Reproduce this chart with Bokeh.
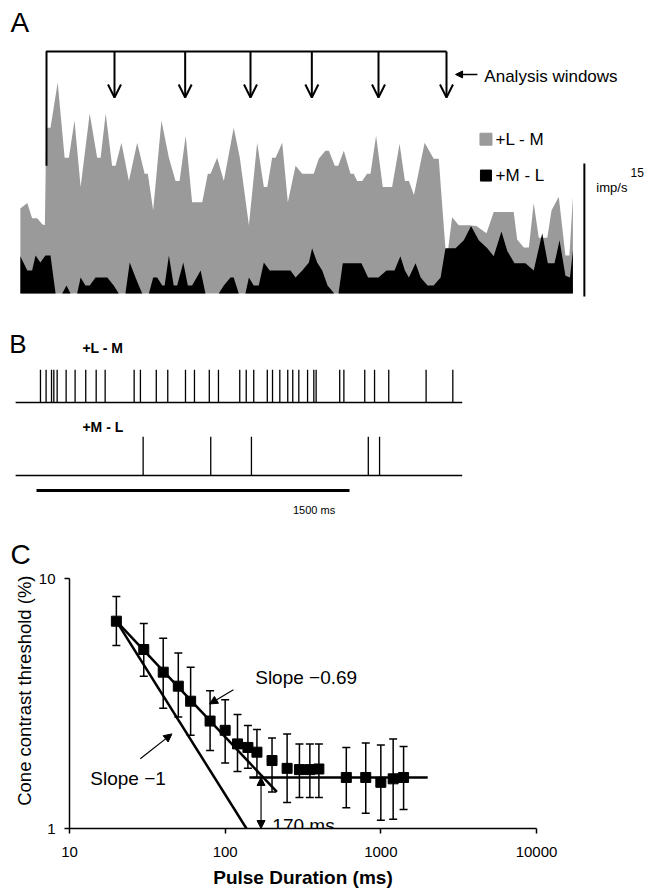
from bokeh.plotting import figure
from bokeh.models import (Range1d, Arrow, OpenHead, NormalHead, TeeHead, Whisker,
                          ColumnDataSource, Label, FixedTicker, PrintfTickFormatter)
from bokeh.embed import file_html
from bokeh.resources import INLINE

FONT = "Liberation Sans"
GRAY = "#9a9a9a"

# ---------------- Panel A: PSTH (time in ms, rate in imp/s) ----------------
lm_t = [-98, -72, -54, -35, -16, -6, -1, 15, 42, 68,
        84, 105, 128, 162, 190, 203, 222, 246, 259, 281,
        309, 340, 368, 380, 400, 431, 459, 484, 499, 522,
        546, 584, 605, 615, 640, 665, 702, 725, 759, 790,
        815, 828, 846, 859, 884, 905, 934, 959, 1002, 1021,
        1046, 1059, 1081, 1094, 1115, 1140, 1152, 1165, 1184, 1202,
        1215, 1236, 1261, 1296, 1324, 1344, 1359, 1378, 1418, 1452,
        1471, 1481, 1500, 1521, 1546, 1584, 1612, 1650, 1677, 1752,
        1765, 1790, 1809, 1827, 1846, 1878, 1894, 1921, 1946, 1961, 1974]
lm_rate = [9.6, 10.2, 8.5, 8.5, 7.8, 7.7, 18.7, 18.7, 23.8, 15.3,
           15.3, 19.5, 12.0, 20.3, 15.3, 15.3, 20.3, 14.4, 14.4, 17.0,
           12.7, 17.0, 13.5, 13.5, 9.4, 19.5, 15.3, 12.7, 12.7, 17.8,
           10.3, 10.3, 13.5, 13.5, 15.3, 12.7, 18.7, 15.3, 7.7, 17.0,
           12.0, 12.0, 15.3, 15.3, 17.0, 10.3, 14.4, 13.5, 13.5, 15.2,
           16.1, 16.1, 14.4, 14.4, 16.1, 13.5, 13.5, 12.7, 12.7, 13.5,
           13.5, 17.8, 12.0, 12.0, 16.9, 12.7, 12.7, 11.1, 17.0, 15.2,
           15.2, 11.1, 3.5, 8.6, 7.7, 7.7, 7.6, 6.8, 9.2, 9.2,
           6.1, 5.2, 5.2, 10.2, 6.3, 6.3, 9.4, 10.9, 4.3, 4.3, 10.9]

ml_t = [-98, -72, -54, -41, -23, -4, 15, 34, 59, 75,
        90, 115, 128, 146, 162, 184, 228, 252, 271, 296,
        312, 334, 346, 359, 384, 400, 415, 434, 443, 459,
        477, 490, 513, 530, 546, 578, 596, 646, 665, 690,
        702, 721, 746, 759, 777, 796, 815, 837, 915, 934,
        959, 984, 996, 1015, 1034, 1054, 1079, 1095, 1111, 1181,
        1206, 1245, 1275, 1305, 1327, 1344, 1359, 1384, 1403, 1429,
        1452, 1478, 1496, 1534, 1565, 1592, 1621, 1653, 1677, 1706,
        1728, 1755, 1796, 1827, 1859, 1880, 1905, 1924, 1946, 1963, 1974]
ml_rate = [4.2, 2.6, 2.6, 4.3, 3.5, 4.3, 4.3, 0, 0, 0.9,
           0, 0, 1.8, 0.9, 0.9, 1.8, 1.8, 0.9, 0, 0,
           3.5, 1.8, 0.9, 0, 0, 1.8, 1.8, 0.9, 0.9, 4.3,
           0.9, 0.9, 3.5, 0.9, 0.9, 2.6, 0, 0, 0.9, 1.8,
           1.8, 0, 0, 1.8, 0.9, 0.9, 3.5, 2.6, 2.6, 1.8,
           2.6, 3.5, 5.1, 3.5, 2.6, 0.9, 0, 0, 3.4, 3.4,
           1.8, 1.8, 2.6, 2.6, 4.2, 2.6, 1.8, 3.4, 1.8, 0.9,
           0.9, 1.8, 5.1, 5.1, 6.0, 7.6, 6.0, 5.1, 4.2, 7.0,
           4.8, 3.4, 3.4, 2.6, 6.8, 3.4, 3.4, 6.0, 2.0, 1.8, 4.9]

STIM_ON = 0
window_ends = [255, 520, 765, 995, 1245, 1500]
SCALE_IMP = 15

# ---------------- Panel B: spike trains (ms) ----------------
lm_spikes = [19, 46, 72, 83, 99, 142, 185, 236, 286, 329, 468, 498, 574, 629,
             714, 757, 828, 872, 974, 1005, 1041, 1106, 1131, 1166, 1204, 1228,
             1257, 1299, 1329, 1340, 1453, 1473, 1573, 1620, 1688, 1867, 1995]
ml_spikes = [511, 835, 1030, 1590, 1644]
TRIAL_START, TRIAL_END = -100, 2040
SCALE_MS = 1500

# ---------------- Panel C: threshold vs duration ----------------
dur = [20, 30, 40, 50, 60, 80, 100, 120, 140, 160, 200, 250, 300, 350, 400,
       600, 800, 1000, 1200, 1400]
thr = [6.75, 5.2, 4.22, 3.71, 3.23, 2.69, 2.47, 2.18, 2.11, 2.02, 1.87, 1.74,
       1.72, 1.72, 1.73, 1.60, 1.60, 1.53, 1.58, 1.60]
thr_hi = [8.47, 6.6, 5.77, 5.03, 4.42, 3.56, 3.27, 2.86, 2.58, 2.49, 2.30, 2.39,
          2.18, 2.18, 2.18, 2.11, 2.20, 2.16, 2.28, 2.13]
thr_lo = [5.4, 4.06, 3.03, 2.79, 2.36, 2.05, 1.83, 1.69, 1.74, 1.60, 1.40, 1.27,
          1.33, 1.33, 1.33, 1.21, 1.15, 1.08, 1.09, 1.19]
fit069_x, fit069_y = [20, 215], [6.75, 1.40]
fit1_x, fit1_y = [20, 137], [6.75, 1.0]
plateau_x, plateau_y = [143, 2000], [1.6, 1.6]
CRIT_DUR = 170

W = 652


def lab(p, x, y, text, size, style="normal", align="left", baseline="middle"):
    p.add_layout(Label(x=x, y=y, text=text, text_font=FONT, text_font_size=size,
                       text_font_style=style, text_align=align,
                       text_baseline=baseline, text_color="black"))


def bare(p):
    p.grid.visible = False
    p.outline_line_color = None


# ======== A ========
pA = figure(width=W, height=312, x_range=Range1d(-172.5, 2272.5),
            y_range=Range1d(-2.14, 33.04), x_axis_location=None,
            y_axis_location=None, title=None, min_border=0,
            output_backend="svg", toolbar_location=None)
bare(pA)
pA.varea(x=lm_t, y1=0, y2=lm_rate, fill_color=GRAY)
pA.varea(x=ml_t, y1=0, y2=ml_rate, fill_color="black")

BR_TOP, BR_BOTTOM, TIP = 27.3, 14.4, 22.1
pA.line([STIM_ON, STIM_ON, window_ends[-1]], [BR_BOTTOM, BR_TOP, BR_TOP],
        line_width=2, color="black")
for t in window_ends:
    pA.add_layout(Arrow(end=OpenHead(size=13, line_width=2, line_color="black"),
                        x_start=t, y_start=BR_TOP, x_end=t, y_end=TIP,
                        line_width=2, line_color="black"))
pA.add_layout(Arrow(end=NormalHead(size=7, fill_color="black", line_color="black"),
                    x_start=1616, y_start=24.7, x_end=1534, y_end=24.7,
                    line_width=1.5))
lab(pA, 1642, 24.5, "Analysis windows", "17px")

pA.scatter([1648], [17.4], marker="square", size=12, color=GRAY)
pA.scatter([1648], [13.3], marker="square", size=11, color="black")
lab(pA, 1684, 17.4, "+L - M", "17px")
lab(pA, 1684, 13.3, "+M - L", "17px")

pA.segment(x0=[2017], y0=[-0.34], x1=[2017], y1=[-0.34 + SCALE_IMP],
           line_width=2, color="black")
lab(pA, 2190, 13.6, str(SCALE_IMP), "12px")
lab(pA, 2062, 12.0, "imp/s", "13px")
lab(pA, -135, 30.6, "A", "28px")

# ======== B (also carries the "C" panel letter) ========
pB = figure(width=W, height=258, x_range=Range1d(-172.5, 2951.9),
            y_range=Range1d(-1.301, 2.233), x_axis_location=None,
            y_axis_location=None, title=None, min_border=0,
            output_backend="svg", toolbar_location=None)
bare(pB)
ROW_LM, ROW_ML = 1.0, 0.0
H_LM, H_ML = 0.45, 0.53
pB.line([TRIAL_START, TRIAL_END], [ROW_LM, ROW_LM], line_width=1.5, color="black")
pB.line([TRIAL_START, TRIAL_END], [ROW_ML, ROW_ML], line_width=1.5, color="black")
pB.segment(x0=lm_spikes, y0=[ROW_LM] * len(lm_spikes), x1=lm_spikes,
           y1=[ROW_LM + H_LM] * len(lm_spikes), line_width=1.3, color="black")
pB.segment(x0=ml_spikes, y0=[ROW_ML] * len(ml_spikes), x1=ml_spikes,
           y1=[ROW_ML + H_ML] * len(ml_spikes), line_width=1.3, color="black")
pB.line([0, SCALE_MS], [-0.205, -0.205], line_width=3, color="black")
lab(pB, 1330, -0.479, "%d ms" % SCALE_MS, "11px", align="center")
lab(pB, 220, 1.753, "+L - M", "14px", style="bold")
lab(pB, 220, 0.658, "+M - L", "14px", style="bold")
lab(pB, -130, 1.795, "B", "26px")
lab(pB, -124.6, -1.075, "C", "28px")

# ======== C ========
pC = figure(width=W, height=321, x_axis_type="log", y_axis_type="log",
            x_range=Range1d(10, 10000), y_range=Range1d(1, 10), title=None,
            min_border_left=69, min_border_right=W - 69 - 467,
            min_border_top=8, min_border_bottom=63,
            output_backend="svg", toolbar_location=None)
bare(pC)
pC.xaxis.ticker = FixedTicker(ticks=[10, 100, 1000, 10000], minor_ticks=[])
pC.yaxis.ticker = FixedTicker(ticks=[1, 10], minor_ticks=[])
pC.xaxis.formatter = PrintfTickFormatter(format="%d")
pC.yaxis.formatter = PrintfTickFormatter(format="%d")
for ax in (pC.xaxis, pC.yaxis):
    ax.axis_line_width = 1.5
    ax.axis_line_color = "black"
    ax.major_tick_line_width = 1.5
    ax.major_tick_line_color = "black"
    ax.major_tick_out = 5
    ax.major_tick_in = 0
    ax.minor_tick_line_color = None
    ax.major_label_text_font = FONT
    ax.major_label_text_font_size = "15px"
    ax.major_label_text_color = "black"
    ax.axis_label_text_font = FONT
    ax.axis_label_text_color = "black"
pC.xaxis.major_label_standoff = 13
pC.yaxis.major_label_standoff = 9
pC.xaxis.axis_label = "Pulse Duration (ms)"
pC.xaxis.axis_label_text_font_size = "19px"
pC.xaxis.axis_label_text_font_style = "bold"
pC.xaxis.axis_label_standoff = 7
# leading no-break spaces nudge the centred label up, as in the reference
pC.yaxis.axis_label = "\u00a0" * 5 + "Cone contrast threshold (%)"
pC.yaxis.axis_label_text_font_size = "18.5px"
pC.yaxis.axis_label_text_font_style = "normal"
pC.yaxis.axis_label_standoff = 1

pC.line(fit069_x, fit069_y, line_width=2.5, color="black")
pC.line(fit1_x, fit1_y, line_width=2.5, color="black")
pC.line(plateau_x, plateau_y, line_width=2.5, color="black")

src = ColumnDataSource(dict(x=dur, y=thr, hi=thr_hi, lo=thr_lo))
pC.add_layout(Whisker(source=src, base="x", upper="hi", lower="lo",
                      dimension="height", line_width=1.5, line_color="black",
                      upper_head=TeeHead(size=8, line_width=1.5, line_color="black"),
                      lower_head=TeeHead(size=8, line_width=1.5, line_color="black")))
pC.scatter("x", "y", source=src, marker="square", size=10, color="black")

pC.add_layout(Arrow(start=NormalHead(size=8, fill_color="black", line_color="black"),
                    end=NormalHead(size=8, fill_color="black", line_color="black"),
                    x_start=CRIT_DUR, y_start=plateau_y[0], x_end=CRIT_DUR, y_end=1.0,
                    line_width=1.2, line_color="black"))
pC.add_layout(Arrow(end=NormalHead(size=8, fill_color="black", line_color="black"),
                    x_start=113, y_start=3.59, x_end=79.4, y_end=3.15,
                    line_width=1.2, line_color="black"))
pC.add_layout(Arrow(end=NormalHead(size=8, fill_color="black", line_color="black"),
                    x_start=28.5, y_start=1.90, x_end=45.5, y_end=2.39,
                    line_width=1.2, line_color="black"))
lab(pC, 156, 4.03, "Slope \u22120.69", "19px")
lab(pC, 13.6, 1.585, "Slope \u22121", "19px")
lab(pC, 201, 1.03, "%d ms" % CRIT_DUR, "19px", baseline="alphabetic")

open("out.html", "w").write(file_html([pA, pB, pC], INLINE))
